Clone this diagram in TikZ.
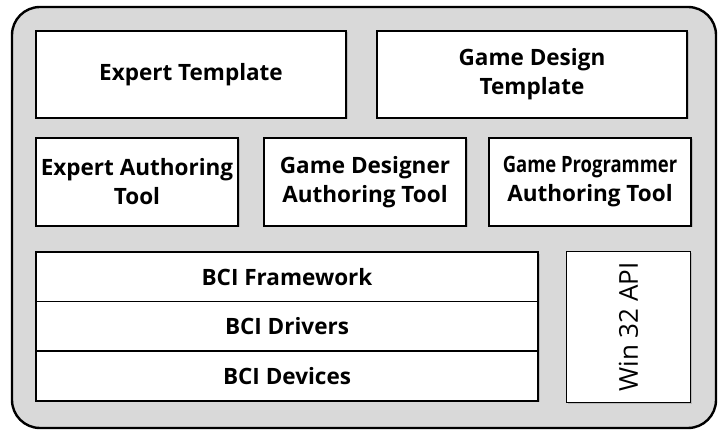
\documentclass[tikz,border=0pt]{standalone}
\usepackage{fontspec}
\setmainfont{Open Sans}
\usetikzlibrary{shadows}

\begin{document}
\begin{tikzpicture}[x=1pt,y=-1pt,
  layer/.style={draw=black,line width=1.6,fill=white,align=center,inner sep=0pt,
    font=\fontsize{22.5}{29}\selectfont\bfseries,
    drop shadow={shadow xshift=1.5pt,shadow yshift=-1.5pt,opacity=0.35}},
  stack/.style={layer,minimum width=502,minimum height=49.7}]
\useasboundingbox (0,0) rectangle (720,430);

%Shape: Rounded Rectangle (frame)
\draw [line width=2.4,fill={rgb,255:red,217;green,217;blue,217},rounded corners=28] (12,7) rectangle (716,428);

%Shape: Templates
\node [layer,minimum width=310,minimum height=87] (expTpl) at (191,74.5) {Expert Template};
\node [layer,minimum width=310,minimum height=87] (gameTpl) at (532,74.5) {Game Design\\Template};

%Shape: Authoring tools
\node [layer,minimum width=202,minimum height=88] (expTool) at (137,182) {Expert Authoring\\Tool};
\node [layer,minimum width=202,minimum height=88] (designTool) at (365,182) {Game Designer\\Authoring Tool};
\node [layer,minimum width=202,minimum height=88] (progTool) at (590,182) {\scalebox{0.82}[1]{Game Programmer}\\Authoring Tool};

%Shape: BCI stack
\node [stack] (framework) at (287,277) {BCI Framework};
\node [stack] (drivers) at (287,326.5) {BCI Drivers};
\node [stack] (devices) at (287,376) {BCI Devices};

%Shape: Win32
\node [layer,minimum width=124,minimum height=151] (winApi) at (628.5,327) {};
\node [rotate=90,font=\fontsize{26}{30}\selectfont] (winTxt) at (winApi.center) {Win 32 API};

\end{tikzpicture}
\end{document}
